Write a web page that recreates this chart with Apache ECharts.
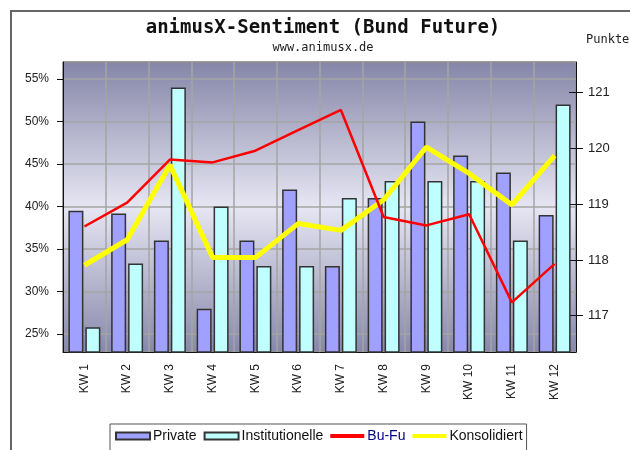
<!DOCTYPE html>
<html>
<head>
<meta charset="utf-8">
<script src="https://cdn.jsdelivr.net/npm/echarts@6/dist/echarts.min.js"></script>
<style>
html,body{margin:0;padding:0;background:#fff;}
#main{width:630px;height:450px;}
</style>
</head>
<body>
<div id="main"></div>
<script>
// Kalenderwochen
const weeks = ['KW 1','KW 2','KW 3','KW 4','KW 5','KW 6','KW 7','KW 8','KW 9','KW 10','KW 11','KW 12']
// Sentiment in %
const privateData = [39.5, 39.2, 36, 28, 36, 42, 33, 41, 50, 46, 44, 39]
const instData = [25.8, 33.3, 54, 40, 33, 33, 41, 43, 43, 43, 36, 52]
const konsData = [33.1, 36.1, 44.9, 34, 34, 38, 37.2, 40.8, 47, 43.9, 40.2, 46]
// Bund Future Punkte
const bufuData = [118.6, 119.03, 119.8, 119.75, 119.96, 120.33, 120.69, 118.77, 118.62, 118.82, 117.24, 117.93]
const punkteTicks = [117, 118, 119, 120, 121]

const myChart = echarts.init(document.getElementById('main'))

const lineIcon = 'path://M0,0H34V4H0Z'

const options = {
    animation: false,
    textStyle: { fontFamily: 'Liberation Sans, Arial, sans-serif' },
    graphic: [
        {
            type: 'rect',
            shape: { x: 11, y: 11, width: 800, height: 800 },
            style: { fill: 'none', stroke: '#666', lineWidth: 2 },
            z: -10
        },
        {
            type: 'text',
            left: 586, top: 34,
            style: { text: 'Punkte', fontSize: 12, fill: '#222', fontFamily: 'DejaVu Sans Mono' }
        }
    ],
    title: {
        text: 'animusX-Sentiment (Bund Future)',
        subtext: 'www.animusx.de',
        left: 318, top: 14, textAlign: 'center',
        itemGap: 4,
        textStyle: { fontFamily: 'DejaVu Sans Mono', fontWeight: 'bold', fontSize: 19, color: '#111' },
        subtextStyle: { fontFamily: 'DejaVu Sans Mono', fontSize: 12, color: '#222' }
    },
    legend: {
        left: 110, top: 424,
        padding: [5, 4, 20, 5],
        borderColor: '#555', borderWidth: 1,
        backgroundColor: '#fff',
        itemWidth: 34, itemHeight: 7, itemGap: 7,
        textStyle: { fontSize: 14, color: '#111', padding: [0, 0, 0, -2] },
        data: [
            { name: 'Private', icon: 'rect' },
            { name: 'Institutionelle', icon: 'rect' },
            { name: 'Bu-Fu', icon: lineIcon, textStyle: { color: '#000080' } },
            { name: 'Konsolidiert', icon: lineIcon }
        ]
    },
    grid: {
        left: 63, right: 54, top: 62, bottom: 98,
        show: true,
        borderColor: '#111', borderWidth: 1,
        backgroundColor: new echarts.graphic.LinearGradient(0, 0, 0, 1, [
            { offset: 0, color: '#8585a8' },
            { offset: 0.5, color: '#e6e6f3' },
            { offset: 1, color: '#8787ab' }
        ])
    },
    xAxis: {
        type: 'category',
        data: weeks,
        axisLine: { lineStyle: { color: '#111' } },
        axisTick: { length: 8, lineStyle: { color: '#111' } },
        axisLabel: { rotate: 90, margin: 12, fontSize: 12, color: '#222' },
        splitLine: { show: true, lineStyle: { color: '#a4a4a4', width: 1.5 } }
    },
    yAxis: [
        {
            type: 'value',
            position: 'left',
            min: 22.9, max: 57, splitNumber: 7,
            axisLine: { show: true, lineStyle: { color: '#111' } },
            axisTick: { show: true, length: 6, lineStyle: { color: '#111' } },
            axisLabel: {
                fontSize: 12, color: '#222', margin: 14,
                showMinLabel: false, showMaxLabel: false,
                formatter: v => v + '%'
            },
            splitLine: { show: true, lineStyle: { color: '#a4a4a4', width: 1.5 } }
        },
        {
            type: 'value',
            position: 'right',
            min: 116.35, max: 121.55, splitNumber: 5,
            axisLine: { show: true, lineStyle: { color: '#111' } },
            axisTick: { show: true, length: 7, customValues: punkteTicks, lineStyle: { color: '#111' } },
            axisLabel: {
                fontSize: 13, color: '#222', margin: 12,
                customValues: punkteTicks
            },
            splitLine: { show: false }
        },
        {
            type: 'value',
            position: 'right',
            min: 116.35, max: 121.55, splitNumber: 5,
            axisLine: { show: false },
            axisTick: { show: true, inside: true, length: 7, customValues: punkteTicks, lineStyle: { color: '#111' } },
            axisLabel: { show: false },
            splitLine: { show: false }
        }
    ],
    series: [
        {
            name: 'Private',
            type: 'bar',
            data: privateData,
            barWidth: 15,
            barGap: '13%',
            itemStyle: { color: '#a0a0ff', borderColor: '#333', borderWidth: 1.5 }
        },
        {
            name: 'Institutionelle',
            type: 'bar',
            data: instData,
            barWidth: 15,
            itemStyle: { color: '#c0ffff', borderColor: '#333', borderWidth: 1.5 }
        },
        {
            name: 'Konsolidiert',
            type: 'line',
            data: konsData,
            yAxisIndex: 0,
            symbol: 'none',
            itemStyle: { color: '#ffff00' },
            lineStyle: { color: '#ffff00', width: 5 }
        },
        {
            name: 'Bu-Fu',
            type: 'line',
            data: bufuData,
            yAxisIndex: 1,
            symbol: 'none',
            itemStyle: { color: '#ff0000' },
            lineStyle: { color: '#ff0000', width: 2.5 }
        }
    ]
}
myChart.setOption(options)
</script>
</body>
</html>
